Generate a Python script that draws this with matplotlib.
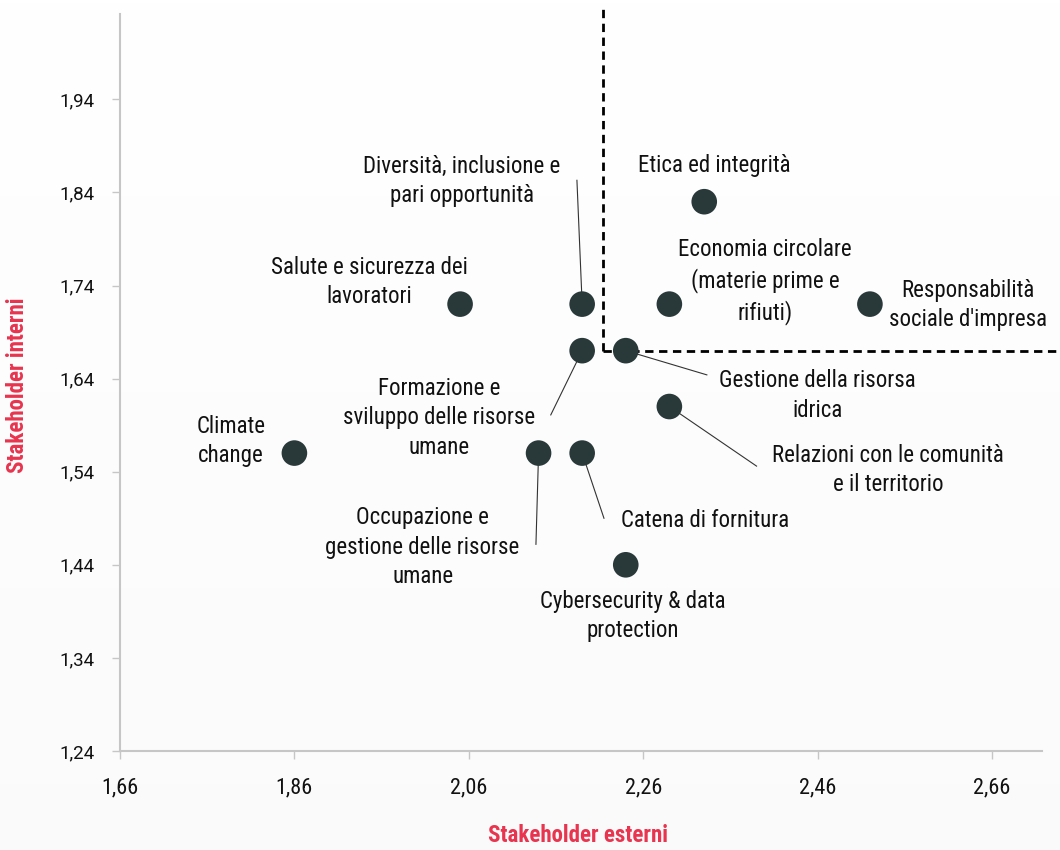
import numpy as np
import matplotlib
matplotlib.use("Agg")
import matplotlib.pyplot as plt
from matplotlib import font_manager

# ---- data ----
labels = [
    "Climate\nchange",
    "Salute e sicurezza dei\nlavoratori",
    "Diversità, inclusione e\npari opportunità",
    "Formazione e\nsviluppo delle risorse\numane",
    "Gestione della risorsa\nidrica",
    "Economia circolare\n(materie prime e\nrifiuti)",
    "Etica ed integrità",
    "Responsabilità\nsociale d'impresa",
    "Relazioni con le comunità\ne il territorio",
    "Occupazione e\ngestione delle risorse\numane",
    "Catena di fornitura",
    "Cybersecurity & data\nprotection",
]
esterni = [1.86, 2.05, 2.19, 2.19, 2.24, 2.29, 2.33, 2.52, 2.29, 2.14, 2.19, 2.24]
interni = [1.56, 1.72, 1.72, 1.67, 1.67, 1.72, 1.83, 1.72, 1.61, 1.56, 1.56, 1.44]
x_ticks = [1.66, 1.86, 2.06, 2.26, 2.46, 2.66]
y_ticks = [1.24, 1.34, 1.44, 1.54, 1.64, 1.74, 1.84, 1.94]
threshold_x = 2.214
threshold_y = 1.67

# label placement (layout only)
label_pos = [
    (1.787, 1.573), (1.946, 1.744), (2.052, 1.852), (2.026, 1.598),
    (2.460, 1.622), (2.400, 1.744), (2.341, 1.869), (2.632, 1.719),
    (2.541, 1.542), (2.007, 1.459), (2.331, 1.488), (2.248, 1.385),
]
leader_end = {
    2: (2.184, 1.853), 3: (2.154, 1.601), 4: (2.333, 1.644),
    8: (2.390, 1.546), 10: (2.215, 1.490), 9: (2.137, 1.462),
}

avail = {f.name for f in font_manager.fontManager.ttflist}
cond = [f for f in ["Roboto Condensed", "Liberation Sans Narrow", "Open Sans Condensed", "DejaVu Sans Condensed", "DejaVu Sans"] if f in avail]
cond_font = cond[0]
reg_font = "Roboto" if "Roboto" in avail else "DejaVu Sans"

fig = plt.figure(figsize=(10.6, 8.5), dpi=100)
# subtle background gradient
bg = fig.add_axes([0, 0, 1, 1], zorder=-10)
grad = np.linspace(1.0, 0.983, 256).reshape(-1, 1)
bg.imshow(np.dstack([grad, grad, grad]), aspect="auto", extent=[0, 1, 0, 1])
bg.axis("off")

ax = fig.add_axes([120/1060, 99/850, (1042-120)/1060, (751-14)/850])
ax.patch.set_alpha(0)
ax.set_xlim(1.66, 1.66 + 922/872)
ax.set_ylim(1.24, 1.24 + 737/931)

dot = "#293838"
for i, (lab, (tx, ty)) in enumerate(zip(labels, label_pos)):
    ax.text(tx, ty, lab, ha="center", va="center", fontsize=16.5,
            family=cond_font, color="#111111", linespacing=1.36)
    if i in leader_end:
        ex, ey = leader_end[i]
        ax.plot([esterni[i], ex], [interni[i], ey], color="#333333", lw=0.8, zorder=2)

ax.scatter(esterni, interni, s=340, color=dot, zorder=5, edgecolors="none")

# threshold dashed lines
ax.plot([threshold_x, threshold_x], [threshold_y, ax.get_ylim()[1] + 0.005], ls=(0, (3, 2)),
        color="black", lw=2, clip_on=False, zorder=3)
ax.plot([threshold_x, 2.736], [threshold_y, threshold_y], ls=(0, (3, 2)),
        color="black", lw=2, clip_on=False, zorder=3)

for s in ["top", "right"]:
    ax.spines[s].set_visible(False)
for s in ["left", "bottom"]:
    ax.spines[s].set_color("#c6c6c6")
    ax.spines[s].set_linewidth(1.5)
ax.tick_params(axis="both", color="#c6c6c6", length=6, width=1, direction="out")
ax.set_xticks(x_ticks)
ax.set_yticks(y_ticks)
ax.set_xticklabels([f"{v:.2f}".replace(".", ",") for v in x_ticks],
                   family=cond_font, fontsize=16, color="#111111")
ax.set_yticklabels([f"{v:.2f}".replace(".", ",") for v in y_ticks],
                   family=reg_font, fontsize=13.5, color="#111111")
ax.tick_params(axis="x", pad=13)
ax.tick_params(axis="y", pad=12)

red = "#e8344e"
fig.text(578/1060, 1 - 835/850, "Stakeholder esterni", ha="center", va="center",
         family=cond_font, fontsize=16.5, fontweight="bold", color=red)
fig.text(18/1060, 1 - 385/850, "Stakeholder interni", ha="center", va="center",
         rotation=90, family=cond_font, fontsize=16.5, fontweight="bold", color=red)

fig.savefig("out.png", dpi=100)
